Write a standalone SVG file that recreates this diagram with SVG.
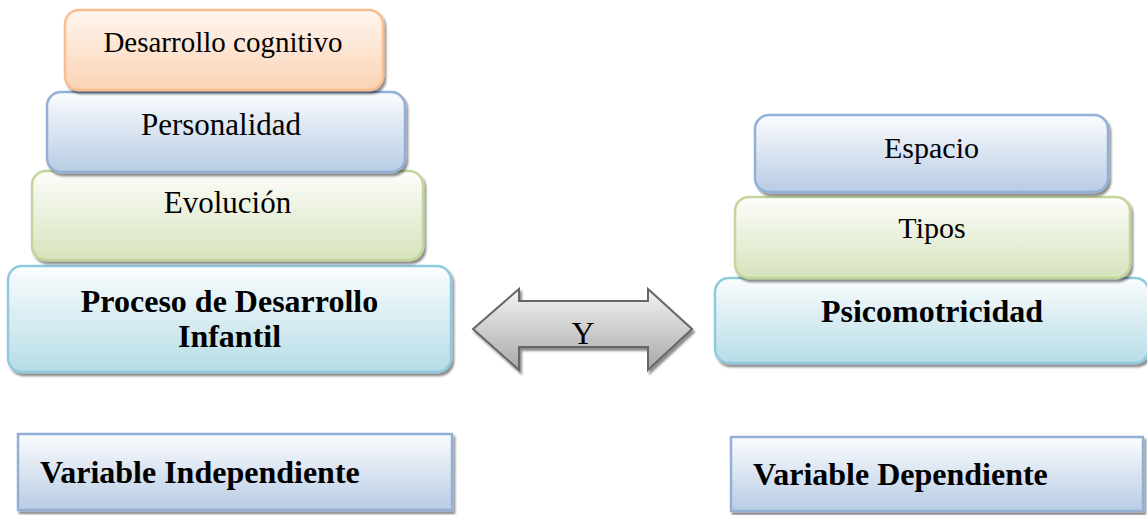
<svg xmlns="http://www.w3.org/2000/svg" width="1147" height="515" viewBox="0 0 1147 515">
<defs>
<linearGradient id="gO" x1="0" y1="0" x2="0" y2="1"><stop offset="0" stop-color="#fef6f0"/><stop offset="1" stop-color="#fbd3b3"/></linearGradient>
<linearGradient id="gB" x1="0" y1="0" x2="0" y2="1"><stop offset="0" stop-color="#fbfcfe"/><stop offset="1" stop-color="#b8cce4"/></linearGradient>
<linearGradient id="gG" x1="0" y1="0" x2="0" y2="1"><stop offset="0" stop-color="#fdfdfb"/><stop offset="1" stop-color="#d6e3bc"/></linearGradient>
<linearGradient id="gA" x1="0" y1="0" x2="0" y2="1"><stop offset="0" stop-color="#fbfdfe"/><stop offset="1" stop-color="#b6dce6"/></linearGradient>
<linearGradient id="gY" x1="0" y1="0" x2="0" y2="1"><stop offset="0" stop-color="#f4f4f4"/><stop offset="1" stop-color="#a8a8a8"/></linearGradient>
<filter id="sh" x="-5%" y="-10%" width="115%" height="130%"><feDropShadow dx="2" dy="3" stdDeviation="0.8" flood-color="#000" flood-opacity="0.45"/></filter>
</defs>
<style>
.box{filter:url(#sh);stroke-width:2.5}
.o{fill:url(#gO);stroke:#f9bd8f}
.b{fill:url(#gB);stroke:#92b0d6}
.g{fill:url(#gG);stroke:#c2d59a}
.a{fill:url(#gA);stroke:#8fcbdc}
.t{font-family:"Liberation Serif","Times New Roman",serif;fill:#000;text-anchor:middle}
.bold{font-weight:bold}
.l{text-anchor:start}
</style>
<g id="proceso">
<rect class="box a" x="8" y="266" width="443" height="106" rx="14"/>
<text class="t bold" x="229.5" y="312" font-size="32">Proceso de Desarrollo</text>
<text class="t bold" x="229.5" y="347" font-size="32">Infantil</text>
</g>
<g id="evolucion">
<rect class="box g" x="32" y="171" width="391" height="89" rx="14"/>
<text class="t" x="227.5" y="213" font-size="31">Evolución</text>
</g>
<g id="personalidad">
<rect class="box b" x="47" y="92" width="358" height="80" rx="14"/>
<text class="t" x="221" y="135" font-size="31">Personalidad</text>
</g>
<g id="cognitivo">
<rect class="box o" x="65" y="10" width="318" height="80" rx="14"/>
<text class="t" x="223" y="52" font-size="29">Desarrollo cognitivo</text>
</g>
<g id="psicomotricidad">
<rect class="box a" x="715" y="278" width="434" height="85" rx="14"/>
<text class="t bold" x="932" y="322" font-size="32">Psicomotricidad</text>
</g>
<g id="tipos">
<rect class="box g" x="735" y="197" width="395" height="81" rx="14"/>
<text class="t" x="932" y="238" font-size="30">Tipos</text>
</g>
<g id="espacio">
<rect class="box b" x="755" y="115" width="353" height="77" rx="14"/>
<text class="t" x="931.5" y="158" font-size="30">Espacio</text>
</g>
<g id="connectors">
<path d="M473,329 L519,289 L519,301 L648,301 L648,289 L692,329 L648,370 L648,347 L519,347 L519,370 Z" fill="url(#gY)" stroke="#666" stroke-width="2" stroke-linejoin="miter" filter="url(#sh)"/>
<text class="t" x="583" y="344" font-size="32">Y</text>
</g>
<g id="var-independiente">
<rect class="box b" x="18" y="434" width="434" height="76" stroke-width="2"/>
<text class="t bold l" x="40" y="483" font-size="32">Variable Independiente</text>
</g>
<g id="var-dependiente">
<rect class="box b" x="731" y="437" width="412" height="74" stroke-width="2"/>
<text class="t bold l" x="753" y="485" font-size="32">Variable Dependiente</text>
</g>
</svg>
